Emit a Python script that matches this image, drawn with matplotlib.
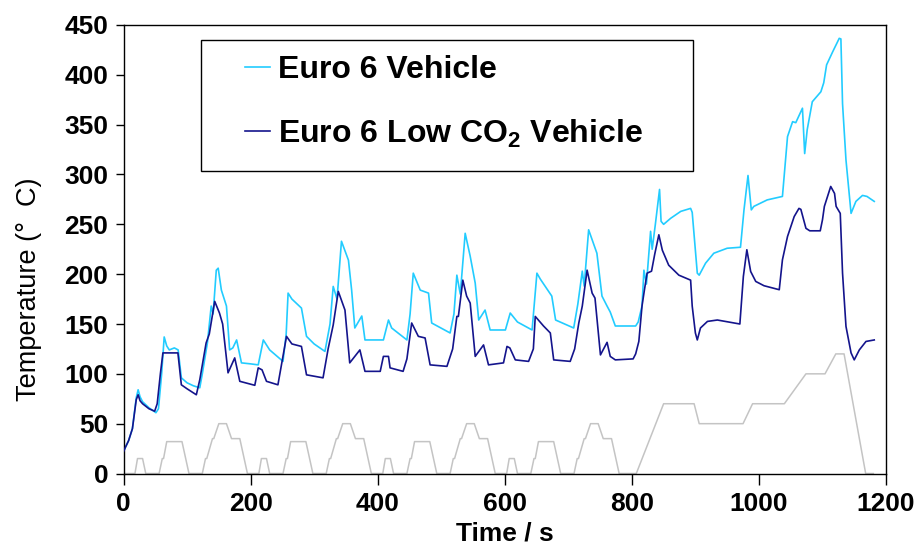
import matplotlib
matplotlib.use('Agg')
import matplotlib.pyplot as plt
from matplotlib.lines import Line2D
from matplotlib.patches import Rectangle

plt.rcParams['font.family'] = ['Liberation Sans', 'DejaVu Sans']
plt.rcParams['mathtext.fontset'] = 'custom'
plt.rcParams['mathtext.rm'] = 'Liberation Sans:bold'
plt.rcParams['mathtext.it'] = 'Liberation Sans:bold'
plt.rcParams['mathtext.bf'] = 'Liberation Sans:bold'

# Euro 6 vehicle temperature (s, deg C)
euro6_t = [0, 2, 8, 14, 20, 23, 26, 30, 40, 51, 55, 60, 64, 68, 72, 80, 86, 91, 100, 110,
           120, 124, 132, 138, 141, 146, 149, 154, 162, 167, 172, 178, 185.6, 200, 212, 220,
           230, 251, 256, 259, 265, 280, 288, 300, 317, 325, 330, 336, 343, 354, 359, 364,
           375, 380, 409, 417, 422, 446, 451, 456, 467, 480, 485, 514, 520, 524.6, 530,
           537.7, 545.6, 553.5, 559, 569, 577, 601, 608.6, 620, 643, 650.6, 656, 674, 680,
           708.5, 715, 722, 725, 732, 745, 753, 761, 766, 774, 806, 810, 816, 819, 823,
           829.5, 832, 837, 843.6, 846, 850, 861, 877, 892.5, 895, 903, 906, 916, 929, 950,
           971, 976.5, 982.8, 988, 992, 1013, 1037, 1045, 1053, 1058, 1068.5, 1072, 1076,
           1084, 1097.5, 1102, 1106.5, 1116, 1126.4, 1129, 1131.6, 1137, 1145, 1152.6, 1163,
           1170, 1181.5]
euro6_T = [22, 25, 33, 45, 76, 84, 77, 72, 66, 61, 65, 100, 137, 128, 124, 126, 124, 96, 91, 88,
           86, 100, 131, 168, 160, 204, 206, 184, 168, 124, 126, 134, 111, 110, 109, 134,
           124, 112.5, 140, 181, 175, 166, 137.6, 130, 122.5, 150, 187.7, 175, 233, 214, 184, 146,
           158, 134, 134, 154, 146, 134, 160, 201, 184, 181, 151, 141, 160, 199, 180,
           241, 218, 191, 154, 164, 144, 144, 161, 152, 144, 201, 195, 178, 154,
           146, 170, 203, 188, 244.5, 221, 178, 168, 162, 148, 148, 152, 168, 204, 190,
           243, 225, 250, 285, 253, 250, 256, 263, 266, 262, 201, 199, 211, 221, 226,
           227, 264.5, 299, 264.5, 268, 274.5, 278, 338, 353, 352, 366.5, 321, 345,
           373, 383, 392, 410, 423, 436.6, 436, 371, 314.6, 261, 273, 279,
           278, 273]

# Euro 6 low CO2 vehicle temperature (s, deg C)
lowco2_t = [0, 2, 8, 14, 20, 23, 26, 30, 40, 49, 53, 58, 62, 85.6, 91, 100, 114.6, 120, 130,
            135, 143.5, 151, 156, 164.5, 175, 183, 206.6, 212, 218, 225, 243, 256.5, 265, 280,
            288, 314, 322, 330, 338, 348.5, 356, 372, 380, 404, 409, 417, 419.5, 440, 446,
            453.5, 464, 474.6, 482.5, 509, 518, 524.6, 527, 534, 540, 545.6, 553.5, 566.6,
            574.4, 598, 603.5, 608, 616.6, 637.5, 645, 648, 661, 671.7, 677, 703, 710, 716.5,
            722, 729.6, 737.5, 742, 750.6, 761, 766, 774, 802, 806, 811, 816, 820, 824, 831,
            836, 842.5, 848, 858, 874, 892.5, 895, 900, 903, 908, 919, 934.6, 955.6, 970,
            975.5, 981, 987, 995, 1008, 1032, 1037, 1045, 1055.5, 1063, 1066, 1074, 1080,
            1096.5, 1100, 1103, 1113, 1119, 1121.5, 1128, 1131.6, 1137, 1145, 1150, 1158,
            1168.5, 1181.5]
lowco2_T = [22, 25, 33, 45, 74, 79, 73, 70, 65, 62.5, 70, 100, 121, 121, 89, 85, 79, 94, 131,
            140, 172.7, 161, 150, 101, 116, 92.5, 88.5, 106, 104, 92.5, 89, 137.6, 130, 127.5,
            99, 96, 125, 149, 182.7, 164, 111, 124, 102.5, 102.5, 117.5, 117.5, 106, 102.5, 115,
            151, 137.6, 136, 109, 107.5, 125, 157.6, 157.6, 194, 178, 171, 117.5, 129,
            109, 111, 127.5, 126, 114, 112.5, 125, 157.6, 148, 141, 114, 112.5, 125, 151,
            168, 204, 181, 176, 119, 131.6, 117.5, 114, 115, 120, 132.5, 168, 185, 201, 203,
            220, 239.5, 224, 209, 199, 194, 168, 141, 134, 146, 152.6, 154, 151.6, 150,
            197.7, 224.5, 202.7, 192.7, 188.4, 184.4, 214.4, 237.8, 257.8, 266, 265, 246, 243.5,
            243.5, 254.5, 268, 288, 281, 268, 261, 201, 147.6, 121, 114, 124,
            132.5, 134]

# drive cycle speed trace (s, km/h)
speed_t = [0, 18, 22, 30, 35, 56, 61, 63, 68, 92, 103, 124, 129, 131, 140, 142, 150, 162, 170, 183, 195,
           213, 217, 225, 230, 251, 256, 258, 263, 287, 298, 319, 324, 326, 335, 337, 345, 357, 365, 378, 390,
           408, 412, 420, 425, 446, 451, 453, 458, 482, 493, 514, 519, 521, 530, 532, 540, 552, 560, 573, 585,
           603, 607, 615, 620, 641, 646, 648, 653, 677, 688, 709, 714, 716, 725, 727, 735, 747, 755, 768, 780,
           807, 850, 898, 906, 975, 990, 1040, 1074, 1104, 1121, 1134, 1168, 1180]
speed_v = [0, 0, 15, 15, 0, 0, 15, 15, 32, 32, 0, 0, 15, 15, 35, 35, 50, 50, 35, 35, 0,
           0, 15, 15, 0, 0, 15, 15, 32, 32, 0, 0, 15, 15, 35, 35, 50, 50, 35, 35, 0,
           0, 15, 15, 0, 0, 15, 15, 32, 32, 0, 0, 15, 15, 35, 35, 50, 50, 35, 35, 0,
           0, 15, 15, 0, 0, 15, 15, 32, 32, 0, 0, 15, 15, 35, 35, 50, 50, 35, 35, 0,
           0, 70, 70, 50, 50, 70, 70, 100, 100, 120, 120, 0, 0]

light_blue = '#22CCFF'
navy = '#14148C'

fig = plt.figure(figsize=(9.17, 5.49), dpi=100)
ax = fig.add_axes([0.1347, 0.1375, 0.8315, 0.817])

ax.plot(speed_t, speed_v, color='#C4C4C4', lw=1.1, zorder=1)
ax.plot(euro6_t, euro6_T, color=light_blue, lw=1.2, zorder=2)
ax.plot(lowco2_t, lowco2_T, color=navy, lw=1.2, zorder=3)

ax.set_xlim(0, 1200)
ax.set_ylim(0, 450)
ax.set_xticks(range(0, 1201, 200))
ax.set_yticks(range(0, 451, 50))
ax.tick_params(axis='x', direction='out', length=8, width=1, pad=5, labelsize=19)
ax.tick_params(axis='y', direction='out', length=6, width=1, pad=5, labelsize=19)
for lab in ax.get_xticklabels() + ax.get_yticklabels():
    lab.set_fontweight('bold')
for sp in ax.spines.values():
    sp.set_linewidth(1)
    sp.set_color('black')

ax.set_xlabel('Time / s', fontsize=19, fontweight='bold', labelpad=4)
ax.set_ylabel('Temperature (°  C)', fontsize=19.5)
ax.yaxis.set_label_coords(-0.107, 0.41)

# legend box
fig.patches.append(Rectangle((201 / 917, 1 - 171 / 549), 492 / 917, 131 / 549,
                             transform=fig.transFigure, fill=False, ec='black', lw=1))
handles = [Line2D([], [], color=light_blue, lw=1.2), Line2D([], [], color=navy, lw=1.2)]
labels = ['Euro 6 Vehicle', r'Euro 6 Low CO$_2$ Vehicle']
fig.legend(handles, labels, loc='center left', bbox_to_anchor=(245 / 917, 1 - 102.5 / 549),
           bbox_transform=fig.transFigure, frameon=False, borderpad=0, borderaxespad=0,
           handlelength=0.78, handletextpad=0.25, labelspacing=1.0,
           prop={'size': 23, 'weight': 'bold'})

fig.savefig('out.png', dpi=100)
